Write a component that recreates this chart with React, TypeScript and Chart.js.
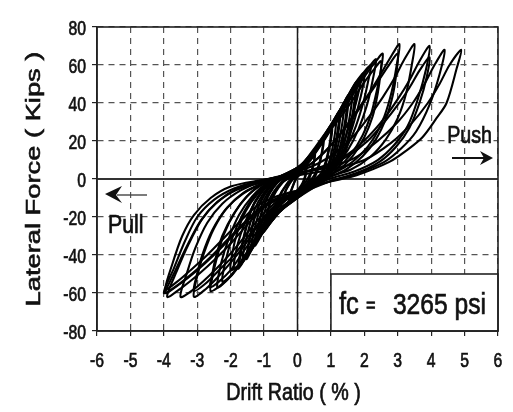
import React, { useEffect, useRef } from 'react';
import { Chart, registerables } from 'chart.js';

Chart.register(...registerables);

type Pt = [number, number];

// axis settings
const xMin = -6, xMax = 6, xStep = 1;
const yMin = -80, yMax = 80, yStep = 20;
const xTitle = 'Drift Ratio ( % )';
const yTitle = 'Lateral Force ( Kips )';
const pushLabel = 'Push';
const pullLabel = 'Pull';
const boxLabelA = 'fc';
const boxLabelEq = '=';
const boxLabelB = '3265 psi';

// hysteresis cycles (drift %, force kips)
const cycle025a: Pt[] = [[0, -6], [0.15, -2], [0.25, 4], [0.15, 3], [0, 1], [-0.15, -4], [-0.25, -10], [-0.15, -9], [0, -6]];
const cycle025b: Pt[] = [[0, -7], [0.17, -3], [0.27, 5], [0.16, 3], [0, 2], [-0.16, -5], [-0.27, -11], [-0.16, -10], [0, -7]];
const cycle050a: Pt[] = [[0.1, -5], [0.3, 0], [0.45, 6], [0.5, 12], [0.35, 9], [0.15, 5], [0, 3], [-0.2, -1], [-0.4, -8], [-0.5, -15], [-0.35, -13], [-0.15, -10], [0.1, -5]];
const cycle050b: Pt[] = [[0.1, -6], [0.32, -1], [0.47, 7], [0.52, 14], [0.36, 10], [0.15, 5], [0, 2], [-0.22, -2], [-0.42, -9], [-0.52, -17], [-0.37, -14], [-0.15, -11], [0.1, -6]];
const cycle075a: Pt[] = [[0.2, -4], [0.5, 2], [0.68, 10], [0.75, 19], [0.55, 14], [0.25, 8], [0, 3], [-0.3, -2], [-0.6, -11], [-0.75, -20], [-0.55, -17], [-0.25, -12], [0.2, -4]];
const cycle075b: Pt[] = [[0.2, -5], [0.52, 1], [0.7, 11], [0.78, 21], [0.57, 15], [0.26, 8], [0, 3], [-0.32, -3], [-0.62, -12], [-0.78, -22], [-0.57, -18], [-0.26, -13], [0.2, -5]];
const cycle100a: Pt[] = [[0.3, -3], [0.7, 3], [0.9, 13], [1.0, 26], [0.75, 20], [0.4, 12], [0, 4], [-0.45, -2], [-0.8, -12], [-1.0, -26], [-0.8, -22], [-0.45, -15], [0, -8], [0.3, -3]];
const cycle100b: Pt[] = [[0.3, -4], [0.72, 2], [0.93, 14], [1.03, 28], [0.77, 21], [0.4, 12], [0, 3], [-0.47, -2], [-0.83, -13], [-1.03, -28], [-0.8, -23], [-0.45, -15], [0, -9], [0.3, -4]];
const cycle115: Pt[] = [[0.35, -3], [0.8, 3], [1.02, 14], [1.15, 31], [0.9, 24], [0.45, 13], [0, 4], [-0.5, -2], [-0.9, -13], [-1.15, -30], [-0.9, -25], [-0.45, -15], [0, -9], [0.35, -3]];
const cycle125a: Pt[] = [[0.4, -3], [0.85, 4], [1.1, 16], [1.25, 35], [1.0, 28], [0.5, 15], [0, 5], [-0.6, -2], [-1.0, -14], [-1.25, -33], [-1.0, -27], [-0.5, -16], [0, -9], [0.4, -3]];
const cycle125b: Pt[] = [[0.42, -4], [0.88, 3], [1.13, 15], [1.28, 36], [1.02, 29], [0.52, 15], [0, 4], [-0.62, -2], [-1.03, -15], [-1.28, -35], [-1.02, -28], [-0.52, -17], [0, -10], [0.42, -4]];
const cycle140: Pt[] = [[0.45, -3], [0.92, 5], [1.22, 18], [1.4, 40], [1.15, 32], [0.6, 17], [0, 5], [-0.65, -2], [-1.1, -15], [-1.4, -37], [-1.15, -31], [-0.6, -17], [0, -9], [0.45, -3]];
const cycle150a: Pt[] = [[0.5, -2], [1.0, 6], [1.3, 19], [1.5, 43], [1.25, 35], [0.65, 18], [0, 5], [-0.7, -2], [-1.2, -16], [-1.5, -40], [-1.25, -33], [-0.65, -18], [0, -9], [0.5, -2]];
const cycle150b: Pt[] = [[0.52, -3], [1.03, 5], [1.33, 18], [1.53, 44], [1.27, 36], [0.66, 18], [0, 4], [-0.72, -2], [-1.23, -17], [-1.53, -42], [-1.27, -34], [-0.66, -19], [0, -10], [0.52, -3]];
const cycle165: Pt[] = [[0.55, -2], [1.08, 6], [1.42, 20], [1.65, 47], [1.37, 39], [0.72, 20], [0, 5], [-0.75, -2], [-1.28, -16], [-1.65, -43], [-1.35, -36], [-0.72, -19], [0, -9], [0.55, -2]];
const cycle175a: Pt[] = [[0.6, -2], [1.15, 6], [1.5, 21], [1.75, 50], [1.45, 41], [0.8, 21], [0, 5], [-0.8, -2], [-1.35, -15], [-1.75, -46], [-1.45, -38], [-0.8, -20], [0, -9], [0.6, -2]];
const cycle175b: Pt[] = [[0.62, -3], [1.18, 5], [1.53, 20], [1.78, 51], [1.47, 42], [0.82, 21], [0, 4], [-0.82, -2], [-1.38, -16], [-1.78, -47], [-1.47, -39], [-0.82, -21], [0, -10], [0.62, -3]];
const cycle190: Pt[] = [[0, -7], [0.6, 0], [1.0, 7], [1.3, 16], [1.55, 28], [1.75, 40], [1.9, 53], [1.7, 49], [1.4, 40], [1.05, 30], [0.65, 19], [0.3, 11], [0, 6], [-0.8, -2], [-1.15, -9], [-1.45, -18], [-1.7, -29], [-1.85, -39], [-1.9, -47], [-1.7, -45], [-1.4, -38], [-1.05, -28], [-0.7, -18], [-0.35, -11], [0, -7]];
const cycle200: Pt[] = [[0, -7], [0.6, 0], [1.0, 6], [1.35, 14], [1.6, 25], [1.8, 37], [1.95, 48], [2.0, 56], [1.75, 51], [1.45, 42], [1.1, 31], [0.7, 20], [0.3, 11], [0, 6], [-0.8, -2], [-1.2, -8], [-1.55, -17], [-1.8, -28], [-1.95, -39], [-2.0, -48], [-1.75, -45], [-1.45, -38], [-1.1, -28], [-0.75, -18], [-0.35, -11], [0, -7]];
const cycle220: Pt[] = [[0, -7], [0.65, 0], [1.1, 7], [1.45, 16], [1.75, 28], [1.98, 41], [2.12, 52], [2.2, 60], [1.98, 56], [1.7, 48], [1.35, 38], [0.95, 27], [0.5, 16], [0.2, 9], [0, 6], [-0.85, -2], [-1.3, -9], [-1.65, -19], [-1.95, -31], [-2.15, -43], [-2.25, -54], [-2.0, -51], [-1.7, -44], [-1.35, -34], [-0.95, -22], [-0.5, -13], [0, -7]];
const cycle235: Pt[] = [[0, -6], [0.7, 1], [1.15, 7], [1.5, 15], [1.82, 26], [2.08, 39], [2.25, 52], [2.35, 63], [2.15, 59], [1.85, 51], [1.55, 42], [1.2, 32], [0.8, 21], [0.4, 12], [0, 6], [-0.9, -2], [-1.35, -9], [-1.75, -19], [-2.05, -31], [-2.28, -44], [-2.4, -57], [-2.15, -54], [-1.8, -47], [-1.45, -37], [-1.1, -26], [-0.7, -16], [-0.3, -10], [0, -6]];
const cycle250a: Pt[] = [[0, -6], [0.7, 1], [1.2, 6], [1.6, 13], [1.95, 23], [2.2, 34], [2.38, 47], [2.5, 58], [2.55, 66], [2.35, 62], [2.05, 55], [1.75, 47], [1.4, 37], [1.0, 27], [0.55, 16], [0.2, 9], [0, 5], [-0.95, -2], [-1.45, -8], [-1.85, -17], [-2.2, -29], [-2.42, -42], [-2.55, -52], [-2.6, -59], [-2.3, -56], [-1.95, -50], [-1.6, -41], [-1.25, -31], [-0.9, -20], [-0.5, -12], [0, -6]];
const cycle250b: Pt[] = [[0, -7], [0.75, 0], [1.25, 5], [1.65, 12], [2.0, 22], [2.25, 33], [2.4, 45], [2.48, 55], [2.5, 62], [2.3, 58], [2.0, 51], [1.7, 43], [1.35, 34], [0.95, 25], [0.5, 15], [0.2, 8], [0, 4], [-1.0, -2], [-1.5, -9], [-1.9, -18], [-2.25, -30], [-2.47, -43], [-2.57, -52], [-2.62, -57], [-2.35, -54], [-2.0, -48], [-1.65, -39], [-1.3, -30], [-0.95, -20], [-0.5, -12], [0, -7]];
const cycle300a: Pt[] = [[0, -7], [0.8, 1], [1.4, 6], [1.9, 13], [2.3, 22], [2.6, 33], [2.82, 46], [2.97, 60], [3.05, 71], [2.75, 63], [2.45, 54], [2.1, 44], [1.7, 34], [1.3, 24], [0.85, 15], [0.4, 8], [0, 5], [-1.0, -2], [-1.6, -7], [-2.1, -15], [-2.5, -26], [-2.8, -39], [-3.0, -51], [-3.1, -62], [-2.75, -58], [-2.35, -51], [-1.95, -43], [-1.55, -34], [-1.2, -25], [-0.8, -16], [-0.4, -10], [0, -7]];
const cycle300b: Pt[] = [[0, -8], [0.85, 0], [1.45, 5], [1.95, 12], [2.35, 21], [2.65, 32], [2.85, 44], [2.96, 56], [3.0, 66], [2.7, 59], [2.4, 51], [2.05, 42], [1.65, 32], [1.25, 23], [0.8, 14], [0.4, 8], [0, 4], [-1.0, -2], [-1.65, -8], [-2.15, -16], [-2.55, -27], [-2.85, -40], [-3.02, -51], [-3.1, -59], [-2.75, -55], [-2.35, -48], [-1.95, -41], [-1.55, -32], [-1.2, -24], [-0.8, -16], [-0.4, -11], [0, -8]];
const cycle350: Pt[] = [[0, -7], [0.9, 1], [1.6, 5], [2.2, 12], [2.65, 21], [3.0, 32], [3.25, 45], [3.42, 60], [3.5, 71], [3.2, 63], [2.9, 53], [2.55, 43], [2.15, 33], [1.7, 23], [1.15, 14], [0.6, 8], [0, 4], [-1.05, -1], [-1.7, -6], [-2.25, -13], [-2.7, -23], [-3.05, -36], [-3.3, -49], [-3.5, -62], [-3.1, -58], [-2.65, -51], [-2.2, -43], [-1.75, -34], [-1.35, -25], [-0.9, -16], [-0.45, -10], [0, -7]];
const cycle400a: Pt[] = [[0, -7], [0.95, 0], [1.7, 4], [2.4, 10], [2.9, 18], [3.3, 28], [3.6, 42], [3.85, 58], [3.95, 70], [3.65, 62], [3.35, 52], [3.0, 42], [2.6, 32], [2.1, 22], [1.5, 13], [0.8, 7], [0, 3], [-1.1, -1], [-1.8, -5], [-2.4, -12], [-2.85, -21], [-3.25, -34], [-3.6, -48], [-3.9, -62], [-3.45, -57], [-2.95, -50], [-2.45, -42], [-1.95, -33], [-1.5, -24], [-1.0, -15], [-0.5, -10], [0, -7]];
const cycle400b: Pt[] = [[0, -8], [1.0, -1], [1.75, 3], [2.45, 9], [2.95, 17], [3.35, 27], [3.65, 40], [3.87, 54], [3.95, 64], [3.65, 57], [3.35, 48], [3.0, 39], [2.6, 30], [2.1, 20], [1.5, 12], [0.8, 6], [0, 3], [-1.1, -2], [-1.85, -6], [-2.45, -13], [-2.9, -22], [-3.3, -35], [-3.65, -48], [-3.95, -60], [-3.5, -55], [-3.0, -48], [-2.5, -40], [-2.0, -31], [-1.55, -23], [-1.05, -15], [-0.5, -10], [0, -8]];
const cycle450: Pt[] = [[0, -6], [1.0, -1], [1.8, 3], [2.6, 9], [3.1, 16], [3.55, 25], [3.95, 39], [4.25, 55], [4.4, 68], [4.1, 60], [3.8, 50], [3.45, 40], [3.0, 30], [2.4, 20], [1.7, 11], [0.9, 6], [0, 3], [-1.15, -1], [-1.9, -5], [-2.5, -11], [-3.0, -20], [-3.35, -32], [-3.7, -47], [-4.0, -60], [-3.6, -56], [-3.1, -49], [-2.6, -41], [-2.1, -32], [-1.6, -23], [-1.1, -15], [-0.5, -9], [0, -6]];
const cycle500: Pt[] = [[0, -6], [1.05, -1], [1.77, 2], [2.75, 9], [3.26, 15], [3.74, 22], [4.16, 32], [4.46, 40], [4.76, 58], [4.9, 68], [4.55, 60], [4.25, 50], [3.9, 40], [3.4, 29], [2.8, 19], [2.0, 10], [1.0, 5], [0, 2], [-1.2, -1], [-2.0, -4], [-2.6, -10], [-3.1, -19], [-3.45, -30], [-3.75, -45], [-3.95, -58], [-3.6, -54], [-3.2, -48], [-2.7, -40], [-2.2, -31], [-1.7, -22], [-1.2, -14], [-0.6, -9], [0, -6]];

const cycles: Pt[][] = [
  cycle025a, cycle025b, cycle050a, cycle050b, cycle075a, cycle075b,
  cycle100a, cycle100b, cycle115, cycle125a, cycle125b, cycle140,
  cycle150a, cycle150b, cycle165, cycle175a, cycle175b, cycle190,
  cycle200, cycle220, cycle235, cycle250a, cycle250b, cycle300a,
  cycle300b, cycle350, cycle400a, cycle400b, cycle450, cycle500,
];

const FONT = '"Liberation Sans", Arial, Helvetica, sans-serif';
const INK = '#111';

function drawText(ctx: CanvasRenderingContext2D, text: string, x: number, y: number, size: number, sx: number, align: CanvasTextAlign) {
  ctx.save();
  ctx.translate(x, y);
  ctx.scale(sx, 1);
  ctx.font = `${size}px ${FONT}`;
  ctx.textAlign = align;
  ctx.textBaseline = 'alphabetic';
  ctx.fillStyle = INK;
  ctx.strokeStyle = INK;
  ctx.lineWidth = 0.7;
  ctx.fillText(text, 0, 0);
  ctx.strokeText(text, 0, 0);
  ctx.restore();
}

const decor = {
  id: 'decor',
  beforeDatasetsDraw(chart: any) {
    const { ctx, chartArea: a, scales } = chart;
    const x = scales.x, y = scales.y;
    ctx.save();
    const x0 = x.getPixelForValue(0);
    ctx.strokeStyle = '#1a1a1a';
    ctx.lineWidth = 1.5;
    ctx.beginPath();
    ctx.moveTo(x0, a.top);
    ctx.lineTo(x0, a.bottom);
    ctx.stroke();
    const y0 = y.getPixelForValue(0);
    ctx.strokeStyle = '#333';
    ctx.lineWidth = 2;
    ctx.beginPath();
    ctx.moveTo(a.left, y0);
    ctx.lineTo(a.right, y0);
    ctx.stroke();
    const bx = x.getPixelForValue(1);
    const by = y.getPixelForValue(-50);
    ctx.fillStyle = '#fff';
    ctx.fillRect(bx, by, a.right - bx, a.bottom - by);
    ctx.restore();
  },
  afterDatasetsDraw(chart: any) {
    const { ctx, chartArea: a, scales } = chart;
    const x = scales.x, y = scales.y;
    ctx.save();
    // frame
    ctx.strokeStyle = '#222';
    ctx.lineWidth = 1.6;
    ctx.strokeRect(a.left, a.top, a.right - a.left, a.bottom - a.top);

    // tick labels
    for (const t of y.ticks) {
      const py = y.getPixelForValue(t.value);
      drawText(ctx, String(t.value), a.left - 11, py + 7.5, 21, 0.75, 'right');
    }
    for (const t of x.ticks) {
      const px = x.getPixelForValue(t.value);
      drawText(ctx, String(t.value), px, a.bottom + 36, 21, 0.75, 'center');
    }
    // x title
    drawText(ctx, xTitle, (a.left + a.right) / 2 - 4, a.bottom + 69, 24, 0.82, 'center');

    // legend box
    const bx = x.getPixelForValue(1);
    const by = y.getPixelForValue(-50);
    ctx.strokeStyle = '#222';
    ctx.lineWidth = 1.6;
    ctx.strokeRect(bx, by, a.right - bx, a.bottom - by);
    drawText(ctx, boxLabelA, bx + 8, a.bottom - 17, 31, 0.82, 'left');
    drawText(ctx, boxLabelEq, bx + 35, a.bottom - 19, 20, 0.82, 'left');
    drawText(ctx, boxLabelB, bx + 62, a.bottom - 17, 30, 0.82, 'left');

    // Push label and arrow
    drawText(ctx, pushLabel, a.right - 6, a.top + 116, 24, 0.82, 'right');
    const py = a.top + 131;
    ctx.strokeStyle = INK;
    ctx.lineWidth = 1.8;
    ctx.beginPath();
    ctx.moveTo(a.right - 46, py);
    ctx.lineTo(a.right - 12, py);
    ctx.stroke();
    ctx.fillStyle = INK;
    ctx.beginPath();
    ctx.moveTo(a.right - 5, py);
    ctx.lineTo(a.right - 18, py - 7);
    ctx.lineTo(a.right - 14, py);
    ctx.lineTo(a.right - 18, py + 7);
    ctx.closePath();
    ctx.fill();

    // Pull label and arrow
    drawText(ctx, pullLabel, a.left + 11, a.top + 206, 26, 0.82, 'left');
    const ly = a.top + 168;
    ctx.strokeStyle = '#444';
    ctx.lineWidth = 1.4;
    ctx.beginPath();
    ctx.moveTo(a.left + 20, ly);
    ctx.lineTo(a.left + 50, ly);
    ctx.stroke();
    ctx.fillStyle = INK;
    ctx.beginPath();
    ctx.moveTo(a.left + 8, ly - 1);
    ctx.lineTo(a.left + 25, ly - 9);
    ctx.lineTo(a.left + 19, ly);
    ctx.lineTo(a.left + 25, ly + 8);
    ctx.closePath();
    ctx.fill();

    // y title (stretched along its length)
    ctx.translate(34, (a.top + a.bottom) / 2);
    ctx.rotate(-Math.PI / 2);
    ctx.scale(1.3, 1);
    ctx.font = `21px ${FONT}`;
    ctx.textAlign = 'center';
    ctx.textBaseline = 'middle';
    ctx.fillStyle = INK;
    ctx.strokeStyle = INK;
    ctx.lineWidth = 0.6;
    ctx.fillText(yTitle, 0, 0);
    ctx.strokeText(yTitle, 0, 0);
    ctx.restore();
  },
};

export default function App() {
  const ref = useRef<HTMLCanvasElement | null>(null);
  useEffect(() => {
    if (!ref.current) return;
    const chart = new Chart(ref.current, {
      type: 'scatter',
      data: {
        datasets: cycles.map((c) => ({
          data: c.map(([dx, f]) => ({ x: dx, y: f })),
          showLine: true,
          borderColor: '#000',
          borderWidth: 2.1,
          pointRadius: 0,
          tension: 0.3,
          fill: false,
        })),
      },
      options: {
        animation: false,
        responsive: false,
        maintainAspectRatio: false,
        layout: { padding: { left: 0, right: 15, top: 27, bottom: 0 } },
        plugins: { legend: { display: false }, tooltip: { enabled: false } },
        scales: {
          x: {
            type: 'linear',
            min: xMin,
            max: xMax,
            ticks: { stepSize: xStep, display: false },
            grid: { color: '#555', lineWidth: 1.2, tickLength: 5, tickColor: '#222', tickWidth: 1.2 },
            border: { display: true, color: '#222', width: 1.5, dash: [6, 5] },
            afterFit: (s: any) => { s.height = 81; },
          },
          y: {
            type: 'linear',
            min: yMin,
            max: yMax,
            ticks: { stepSize: yStep, display: false },
            grid: { color: '#555', lineWidth: 1.2, tickLength: 5, tickColor: '#222', tickWidth: 1.2 },
            border: { display: true, color: '#222', width: 1.5, dash: [6, 5] },
            afterFit: (s: any) => { s.width = 97; },
          },
        },
      },
      plugins: [decor],
    } as any);
    return () => chart.destroy();
  }, []);
  return (
    <div style={{ position: 'absolute', left: 0, top: 0, width: 513, height: 412, background: '#fff' }}>
      <canvas ref={ref} width={513} height={412} style={{ display: 'block' }} />
    </div>
  );
}
